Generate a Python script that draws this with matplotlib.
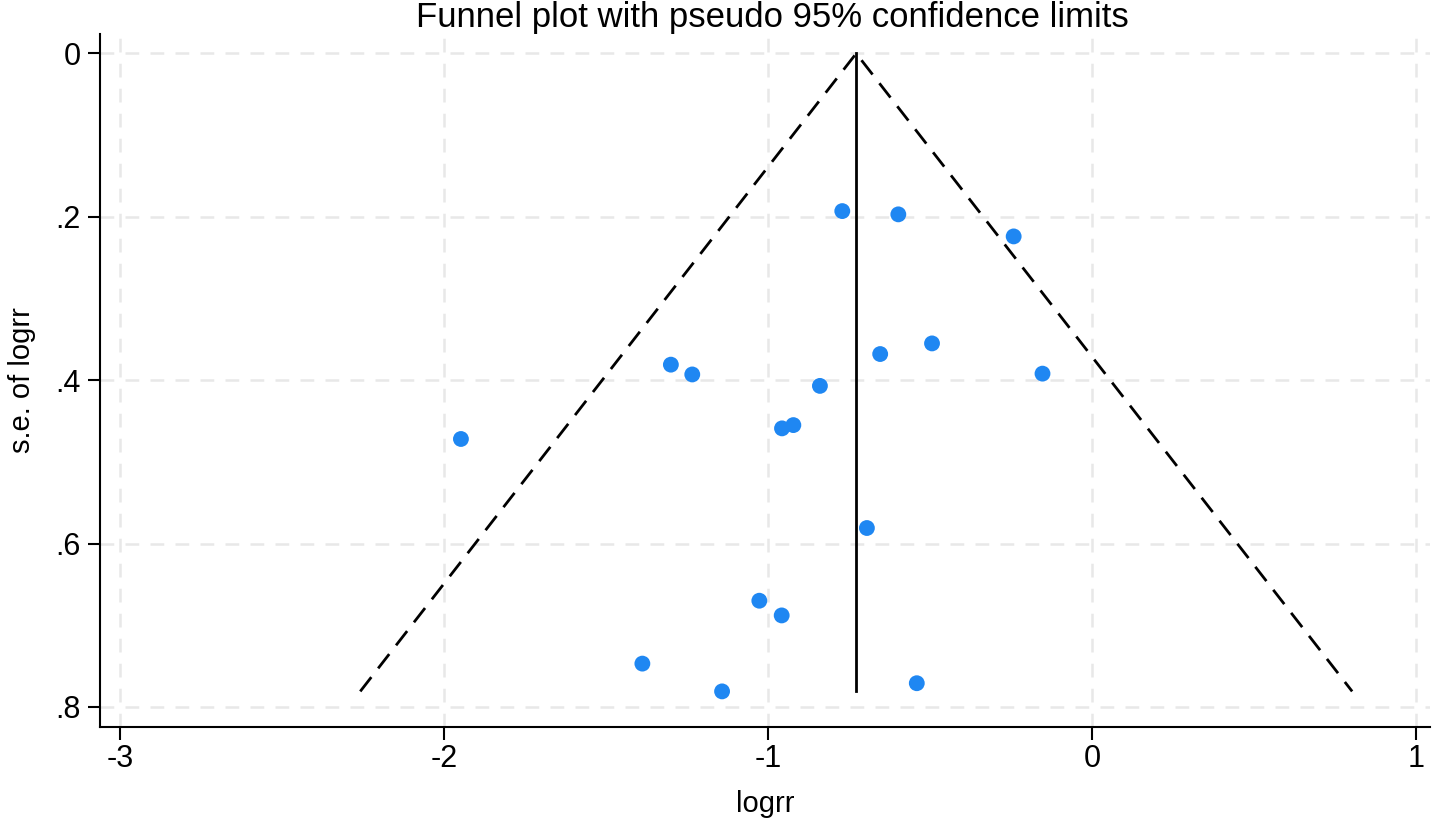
import matplotlib
matplotlib.use('Agg')
import matplotlib.pyplot as plt

plt.rcParams['font.family'] = ['Liberation Sans', 'DejaVu Sans']

# study estimates
logrr = [-0.771, -0.598, -0.242, -1.300, -1.234, -0.654, -0.494, -0.153, -0.840,
         -1.948, -0.957, -0.922, -0.695, -1.027, -0.958, -1.388, -1.142, -0.541]
se_logrr = [0.193, 0.197, 0.224, 0.381, 0.393, 0.368, 0.355, 0.392, 0.407,
            0.472, 0.459, 0.455, 0.581, 0.670, 0.688, 0.747, 0.781, 0.771]
pooled = -0.728
x_ticks = [-3, -2, -1, 0, 1]
y_ticks = [0, 0.2, 0.4, 0.6, 0.8]
y_tick_labels = ['0', '.2', '.4', '.6', '.8']

fig = plt.figure(figsize=(14.41, 8.24), dpi=100)
ax = fig.add_axes([100 / 1441, 1 - 727 / 824, 1330 / 1441, 693 / 824])

# pseudo 95% confidence limits
max_se = max(se_logrr)
ax.plot([pooled - 1.96 * max_se, pooled, pooled + 1.96 * max_se], [max_se, 0, max_se],
        color='black', lw=2.0, linestyle=(0, (6.5, 4)), zorder=2)
ax.plot([pooled, pooled], [0, max_se], color='black', lw=2.0, zorder=2)

ax.scatter(logrr, se_logrr, s=130, color='#1f87f2', edgecolors='none', zorder=3)

ax.set_xlim(-3.062, 1.043)
ax.set_ylim(0.8246, -0.0238)
ax.set_xticks(x_ticks)
ax.set_xticklabels([str(t) for t in x_ticks])
ax.set_yticks(y_ticks)
ax.set_yticklabels(y_tick_labels)
ax.grid(True, color='#e8e8e8', lw=1.8, linestyle=(0, (5.5, 4.5)), zorder=0)

for side in ['top', 'right']:
    ax.spines[side].set_visible(False)
for side in ['left', 'bottom']:
    ax.spines[side].set_linewidth(1.5)
ax.tick_params(axis='both', direction='out', length=9, width=1.5, labelsize=22)
ax.tick_params(axis='x', pad=3)
ax.tick_params(axis='y', pad=5)

ax.set_xlabel('logrr', fontsize=21, labelpad=12)
ax.set_ylabel('s.e. of logrr', fontsize=21, labelpad=14)
fig.text(772 / 1441, 1 - 27 / 824, 'Funnel plot with pseudo 95% confidence limits',
         fontsize=25, ha='center', va='baseline')

fig.savefig('out.png', dpi=100)
